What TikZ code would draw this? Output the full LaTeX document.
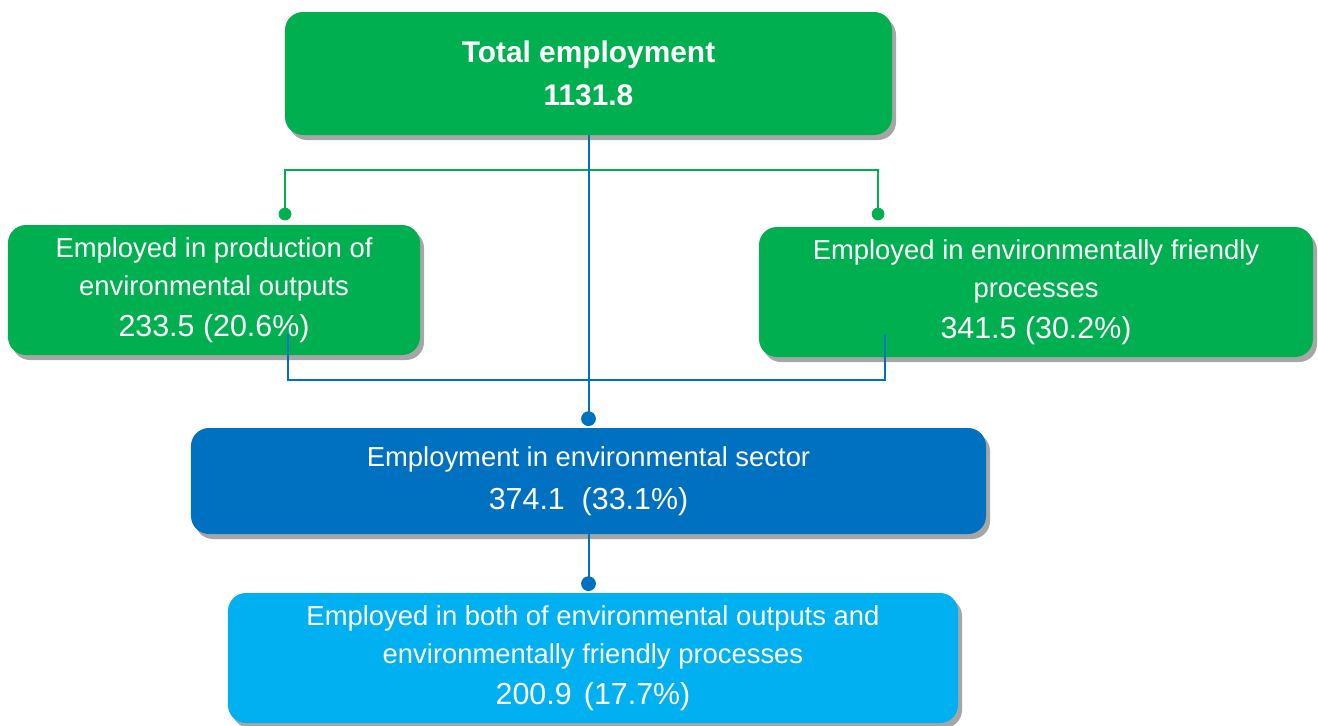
\documentclass[tikz,border=0pt]{standalone}
\usepackage{fontspec}
\setmainfont{Liberation Sans}
\usetikzlibrary{shadows}
\definecolor{boxgreen}{RGB}{0,176,80}
\definecolor{boxblue}{RGB}{0,112,192}
\definecolor{boxsky}{RGB}{0,176,240}
\newcommand{\numline}{\fontsize{17.3}{21.5}\selectfont}

\begin{document}
\begin{tikzpicture}[x=0.2mm,y=-0.2mm,
  box/.style={rounded corners=3.6mm,text=white,align=center,inner sep=0pt,
    font=\fontsize{15.6}{21.5}\selectfont,
    drop shadow={shadow xshift=0.8mm,shadow yshift=-1mm,fill=black!35,opacity=1}},
  greenbox/.style={box,fill=boxgreen},
  bluebox/.style={box,fill=boxblue},
  skybox/.style={box,fill=boxsky},
  greenline/.style={boxgreen,line width=0.4mm},
  blueline/.style={boxblue,line width=0.4mm}]
\useasboundingbox (0,0) rectangle (1318,725);

\node[greenbox,minimum width=121.4mm,minimum height=24.6mm,
  font=\bfseries\fontsize{17}{24.5}\selectfont] (total) at (588.5,73.5)
  {Total employment\\1131.8};
\node[greenbox,minimum width=82.4mm,minimum height=26mm] (outputs) at (214,290)
  {Employed in production of\\environmental outputs\\[2pt]\numline 233.5 (20.6\%)};
\node[greenbox,minimum width=110.8mm,minimum height=26mm] (processes) at (1036,292)
  {Employed in environmentally friendly\\processes\\[2pt]\numline 341.5 (30.2\%)};
\node[bluebox,minimum width=159mm,minimum height=21.2mm] (sector) at (588.5,481)
  {Employment in environmental sector\\[3pt]\numline 374.1\ \ (33.1\%)};
\node[skybox,minimum width=146mm,minimum height=26mm] (both) at (593,658)
  {Employed in both of environmental outputs and\\environmentally friendly processes\\[2pt]\numline 200.9\hspace{0.4em}(17.7\%)};

\coordinate (gl) at (285,214);
\coordinate (gr) at (878,214);
\coordinate (bl) at (288,334);
\coordinate (br) at (885,334);
\coordinate (d1) at ([yshift=1.8mm]sector.north);
\coordinate (d2) at ([yshift=1.8mm]both.north -| sector.south);

\draw[greenline] (gl) -- ++(0,-44) -| (gr);
\filldraw[boxgreen] (gl) circle (1.2mm);
\filldraw[boxgreen] (gr) circle (1.2mm);

\draw[blueline] (bl) -- ++(0,46) -| (br);
\draw[blueline] (total.south) -- (d1);
\filldraw[boxblue] (d1) circle (1.4mm);
\draw[blueline] (sector.south) -- (d2);
\filldraw[boxblue] (d2) circle (1.4mm);

\end{tikzpicture}
\end{document}
